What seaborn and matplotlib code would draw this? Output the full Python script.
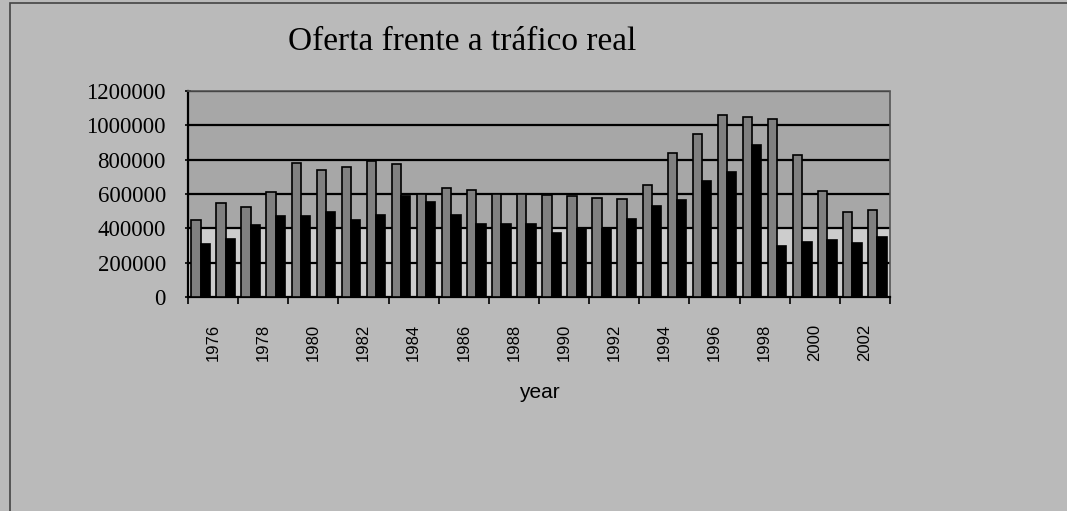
import matplotlib
matplotlib.use("Agg")
import matplotlib.pyplot as plt
from matplotlib.patches import Rectangle
from matplotlib.ticker import FixedLocator, NullFormatter
import seaborn as sns
import pandas as pd

# Annual figures: offered capacity vs. real traffic
years = [str(y) for y in range(1976, 2004)]
oferta = [448000, 550000, 526000, 614000, 780000, 737000, 757000, 794000,
          774000, 599000, 634000, 624000, 599000, 599000, 595000, 591000,
          575000, 571000, 652000, 839000, 950000, 1061000, 1049000, 1037000,
          825000, 616000, 494000, 507000]
trafico = [306000, 339000, 419000, 474000, 472000, 494000, 448000, 480000,
           591000, 556000, 480000, 425000, 425000, 425000, 371000, 394000,
           395000, 456000, 530000, 566000, 678000, 731000, 885000, 298000,
           318000, 330000, 316000, 351000]
series_names = ["Oferta", "Tráfico real"]
y_ticks = [0, 200000, 400000, 600000, 800000, 1000000, 1200000]

df = pd.DataFrame({
    "year": years * 2,
    "value": oferta + trafico,
    "serie": [series_names[0]] * len(years) + [series_names[1]] * len(years),
})

sns.set_theme(style="white")
plt.rcParams["font.family"] = ["Liberation Serif", "DejaVu Serif"]
plt.rcParams["text.color"] = "black"
plt.rcParams["axes.labelcolor"] = "black"
plt.rcParams["xtick.color"] = "black"
plt.rcParams["ytick.color"] = "black"

fig = plt.figure(figsize=(10.67, 5.11), dpi=100)
fig.patch.set_facecolor("#bababa")
ax = fig.add_axes([188 / 1067, 1 - 297 / 511, (890 - 188) / 1067, (297 - 91) / 511])
ax.set_facecolor("#a7a7a7")

# lighter lower band of the plotting area
ax.axhspan(0, 400000, color="#cdcdcd", zorder=0)

for y in y_ticks[1:]:
    ax.axhline(y, color="black", lw=1.6, zorder=1)

sns.barplot(data=df, x="year", y="value", hue="serie", order=years,
            palette=["#808080", "#000000"], width=0.74, saturation=1,
            edgecolor="black", linewidth=1.2, legend=False, ax=ax, zorder=3)

ax.set_ylim(0, 1200000)
ax.set_xlim(-0.5, len(years) - 0.5)
ax.set_yticks(y_ticks)
ax.set_yticklabels([str(v) for v in y_ticks], fontsize=16.5, color="black")

# tick marks at every category boundary, labels every second year
ax.xaxis.set_major_locator(FixedLocator([i + 0.5 for i in range(0, len(years), 2)]))
ax.set_xticklabels([years[i] for i in range(0, len(years), 2)],
                   rotation=90, fontsize=12, color="black",
                   family=["Liberation Sans", "DejaVu Sans"])
ax.xaxis.set_minor_locator(FixedLocator([i - 0.5 for i in range(len(years) + 1)]))
ax.xaxis.set_minor_formatter(NullFormatter())
ax.tick_params(axis="x", which="major", length=5, width=1.2, color="black",
               direction="out", pad=14)
ax.tick_params(axis="x", which="minor", length=5, width=1.2, color="black",
               direction="out", bottom=True)
ax.tick_params(axis="y", which="major", length=4, width=1.2, color="black",
               direction="inout", left=True, pad=14)

ax.set_xlabel("year", fontsize=15, color="black",
              family=["Liberation Sans", "DejaVu Sans"], labelpad=16)
ax.set_ylabel("")

for side in ["left", "bottom"]:
    ax.spines[side].set_color("black")
    ax.spines[side].set_linewidth(1.6)
for side in ["top", "right"]:
    ax.spines[side].set_color("#555555")
    ax.spines[side].set_linewidth(1.2)
    ax.spines[side].set_linestyle((0, (3, 1)))

fig.text(462 / 1067, 1 - 42 / 511, "Oferta frente a tráfico real",
         ha="center", va="center", fontsize=24, color="black")

# chart area frame
fig.patches.append(Rectangle((10 / 1067, -0.05), 1.2, 1 - 3 / 511 + 0.05,
                             transform=fig.transFigure, fill=False,
                             edgecolor="#444444", lw=1.2))

fig.savefig("out.png", dpi=100, facecolor=fig.get_facecolor())
